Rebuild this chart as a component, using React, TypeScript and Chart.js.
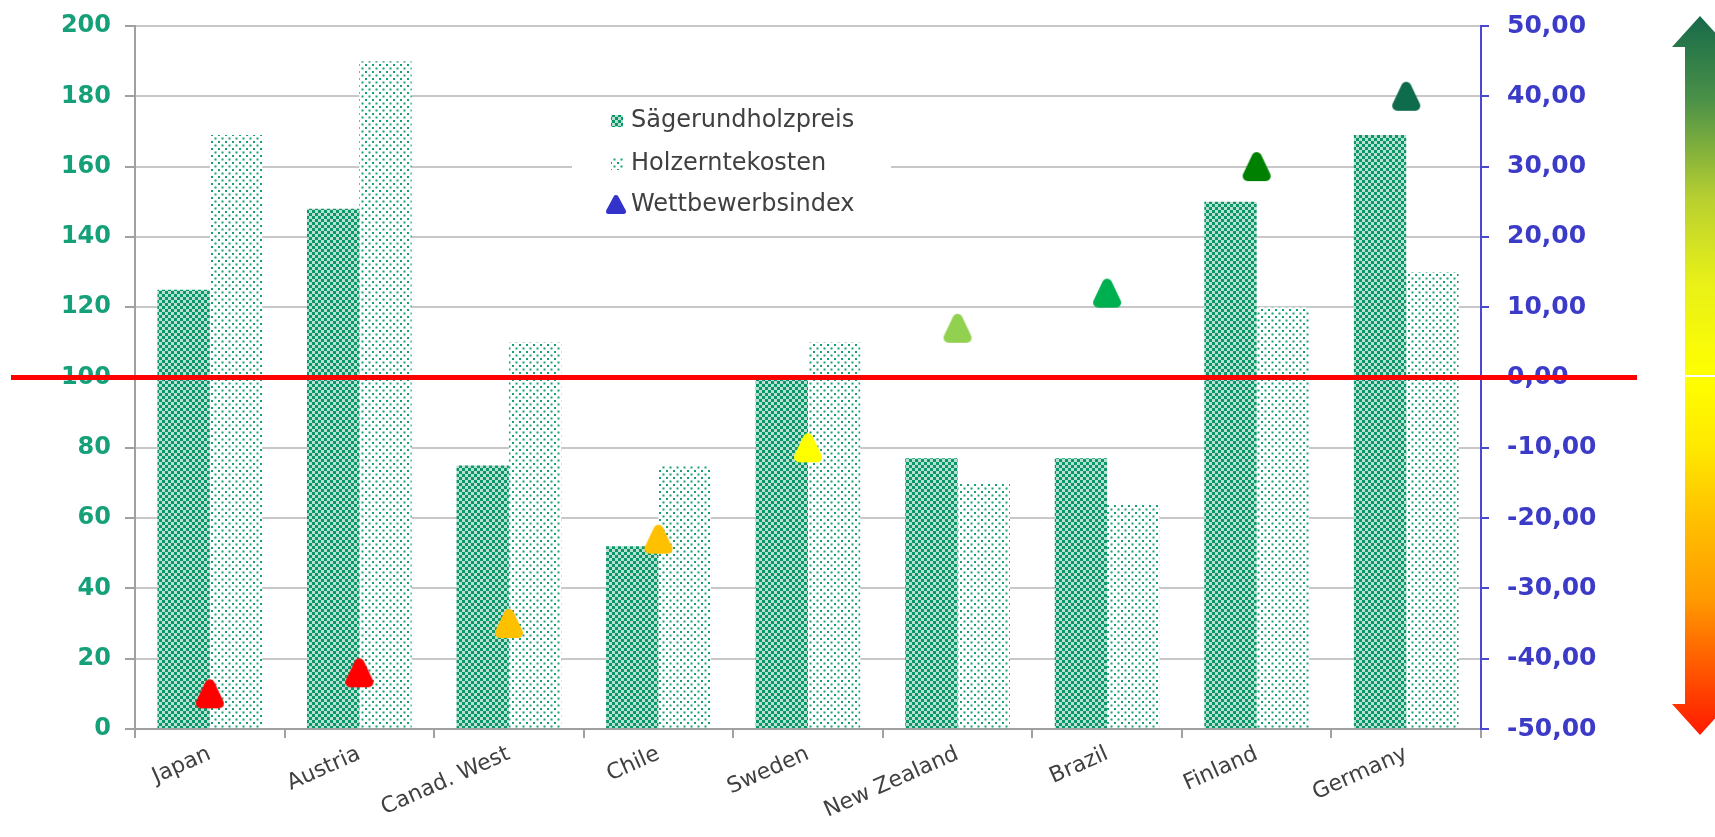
import React, { useEffect, useRef } from 'react';
import { Chart, registerables } from 'chart.js';

Chart.register(...registerables);

const categories = ['Japan', 'Austria', 'Canad. West', 'Chile', 'Sweden', 'New Zealand', 'Brazil', 'Finland', 'Germany'];
const saegerundholzpreis = [125, 148, 75, 52, 100, 77, 77, 150, 169];
const holzerntekosten = [169, 190, 110, 75, 110, 70, 64, 120, 130];
const wettbewerbsindex = [-45, -42, -35, -23, -10, 7, 12, 30, 40];
const indexColors = ['#ff0000', '#ff0000', '#ffc000', '#ffc000', '#ffff00', '#92d050', '#00b050', '#008000', '#0e6b4b'];
const seriesNames = ['Sägerundholzpreis', 'Holzerntekosten', 'Wettbewerbsindex'];
const leftMin = 0;
const leftMax = 200;
const leftStep = 20;
const rightMin = -50;
const rightMax = 50;
const rightStep = 10;
const thresholdLeft = 100;

function makeDensePattern(): CanvasPattern | string {
  const c = document.createElement('canvas');
  c.width = 6;
  c.height = 6;
  const g = c.getContext('2d');
  if (!g) return '#0f9a6c';
  g.fillStyle = '#ffffff';
  g.fillRect(0, 0, 6, 6);
  g.fillStyle = '#0b976a';
  g.fillRect(0, 0, 3, 3);
  g.fillRect(3, 3, 3, 3);
  g.fillStyle = 'rgba(11,151,106,0.3)';
  g.fillRect(3, 0, 3, 3);
  g.fillRect(0, 3, 3, 3);
  const p = g.createPattern(c, 'repeat');
  return p || '#0f9a6c';
}

function makeSparsePattern(): CanvasPattern | string {
  const c = document.createElement('canvas');
  c.width = 7;
  c.height = 7;
  const g = c.getContext('2d');
  if (!g) return '#7fcfb0';
  g.fillStyle = '#ffffff';
  g.fillRect(0, 0, 7, 7);
  g.fillStyle = '#17a074';
  g.fillRect(1, 1, 2, 2);
  g.fillRect(4.5, 4.5, 2, 2);
  const p = g.createPattern(c, 'repeat');
  return p || '#7fcfb0';
}

function makeTriangle(color: string, w = 30, h = 31, lw = 10): HTMLCanvasElement {
  const c = document.createElement('canvas');
  c.width = w;
  c.height = h;
  const g = c.getContext('2d');
  if (!g) return c;
  const m = lw / 2 + 1;
  g.fillStyle = color;
  g.strokeStyle = color;
  g.lineWidth = lw;
  g.lineJoin = 'round';
  g.beginPath();
  g.moveTo(w / 2, m);
  g.lineTo(w - m, h - m);
  g.lineTo(m, h - m);
  g.closePath();
  g.fill();
  g.stroke();
  return c;
}

export default function App() {
  const ref = useRef<HTMLCanvasElement | null>(null);

  useEffect(() => {
    const canvas = ref.current;
    if (!canvas) return;
    const dense = makeDensePattern();
    const sparse = makeSparsePattern();
    const triangles = indexColors.map((c) => makeTriangle(c));
    const legendTriangle = makeTriangle('#3333cc', 22, 21, 5);

    const decor = {
      id: 'decor',
      afterDraw(chart: any) {
        const ctx = chart.ctx as CanvasRenderingContext2D;
        ctx.save();

        // legend
        ctx.fillStyle = '#ffffff';
        ctx.fillRect(572, 104, 319, 113);
        const rows = [121, 164, 205];
        ctx.font = '24px "DejaVu Sans"';
        ctx.textBaseline = 'middle';
        ctx.textAlign = 'left';
        ctx.fillStyle = dense as any;
        ctx.fillRect(611, rows[0] - 6, 12, 12);
        ctx.fillStyle = sparse as any;
        ctx.fillRect(611, rows[1] - 6, 12, 12);
        ctx.drawImage(legendTriangle, 605, rows[2] - 11);
        ctx.fillStyle = '#404040';
        seriesNames.forEach((n, i) => ctx.fillText(n, 631, rows[i]));

        // gradient arrow
        const cx = 1700;
        const half = 15;
        const headHalf = 28;
        const g1 = ctx.createLinearGradient(0, 16, 0, 375);
        g1.addColorStop(0, '#176a4a');
        g1.addColorStop(0.23, '#4a9048');
        g1.addColorStop(0.51, '#b8d030');
        g1.addColorStop(0.74, '#e8f018');
        g1.addColorStop(1, '#ffff00');
        ctx.fillStyle = g1;
        ctx.beginPath();
        ctx.moveTo(cx, 16);
        ctx.lineTo(cx + headHalf, 47);
        ctx.lineTo(cx + half, 47);
        ctx.lineTo(cx + half, 375);
        ctx.lineTo(cx - half, 375);
        ctx.lineTo(cx - half, 47);
        ctx.lineTo(cx - headHalf, 47);
        ctx.closePath();
        ctx.fill();

        const g2 = ctx.createLinearGradient(0, 377, 0, 735);
        g2.addColorStop(0, '#ffff00');
        g2.addColorStop(0.2, '#ffe800');
        g2.addColorStop(0.4, '#ffc000');
        g2.addColorStop(0.62, '#ff9a00');
        g2.addColorStop(0.9, '#ff3a00');
        g2.addColorStop(1, '#ff1a00');
        ctx.fillStyle = g2;
        ctx.beginPath();
        ctx.moveTo(cx - half, 377);
        ctx.lineTo(cx + half, 377);
        ctx.lineTo(cx + half, 704);
        ctx.lineTo(cx + headHalf, 704);
        ctx.lineTo(cx, 735);
        ctx.lineTo(cx - headHalf, 704);
        ctx.lineTo(cx - half, 704);
        ctx.closePath();
        ctx.fill();

        // red threshold line
        const yPix = chart.scales.y.getPixelForValue(thresholdLeft);
        ctx.strokeStyle = '#ff0000';
        ctx.lineWidth = 5;
        ctx.beginPath();
        ctx.moveTo(11, yPix);
        ctx.lineTo(1637, yPix);
        ctx.stroke();
        ctx.restore();
      },
    };

    const chart = new Chart(canvas, {
      type: 'bar',
      data: {
        labels: categories,
        datasets: [
          {
            type: 'line',
            label: seriesNames[2],
            data: wettbewerbsindex,
            yAxisID: 'y1',
            showLine: false,
            pointStyle: triangles as any,
            pointRadius: 14,
            pointBackgroundColor: indexColors,
            pointBorderColor: indexColors,
            order: 0,
          } as any,
          {
            type: 'bar',
            label: seriesNames[0],
            data: saegerundholzpreis,
            yAxisID: 'y',
            backgroundColor: dense as any,
            borderWidth: 0,
            categoryPercentage: 0.7,
            barPercentage: 1,
            order: 1,
          },
          {
            type: 'bar',
            label: seriesNames[1],
            data: holzerntekosten,
            yAxisID: 'y',
            backgroundColor: sparse as any,
            borderWidth: 0,
            categoryPercentage: 0.7,
            barPercentage: 1,
            order: 1,
          },
        ],
      },
      options: {
        responsive: false,
        animation: false,
        devicePixelRatio: 1,
        layout: { padding: { top: 26, left: 0, right: 0, bottom: 0 } },
        plugins: {
          legend: { display: false },
          tooltip: { enabled: false },
        },
        scales: {
          x: {
            grid: {
              offset: true,
              drawOnChartArea: false,
              tickLength: 9,
              color: '#a0a0a0',
              lineWidth: 2,
            },
            border: { color: '#a0a0a0', width: 2 },
            ticks: {
              minRotation: 24,
              maxRotation: 24,
              color: '#404040',
              font: { family: 'DejaVu Sans', size: 22 },
              padding: 3,
            },
            afterFit: (s: any) => {
              s.height = 108;
            },
          },
          y: {
            position: 'left',
            min: leftMin,
            max: leftMax,
            ticks: {
              stepSize: leftStep,
              color: '#16a07a',
              font: { family: 'DejaVu Sans', size: 24, weight: 'bold' },
              padding: 14,
            },
            grid: { color: '#c8c8c8', lineWidth: 2, tickLength: 10, tickColor: '#a0a0a0' },
            border: { color: '#a0a0a0', width: 2 },
            afterFit: (s: any) => {
              s.width = 135;
              s.paddingTop = 0;
              s.paddingBottom = 0;
            },
          },
          y1: {
            position: 'right',
            min: rightMin,
            max: rightMax,
            ticks: {
              stepSize: rightStep,
              callback: (v: any) => Number(v).toFixed(2).replace('.', ','),
              color: '#3b3bc8',
              font: { family: 'DejaVu Sans', size: 25, weight: 'bold' },
              padding: 18,
            },
            grid: { drawOnChartArea: false, tickLength: 8, tickColor: '#4848d0', lineWidth: 2 },
            border: { color: '#4848d0', width: 2 },
            afterFit: (s: any) => {
              s.width = 234;
              s.paddingTop = 0;
              s.paddingBottom = 0;
            },
          },
        },
      } as any,
      plugins: [decor],
    });
    return () => chart.destroy();
  }, []);

  return (
    <div style={{ position: 'absolute', left: 0, top: 0, width: 1715, height: 837, background: '#ffffff' }}>
      <canvas ref={ref} width={1715} height={837} style={{ width: 1715, height: 837 }} />
    </div>
  );
}
